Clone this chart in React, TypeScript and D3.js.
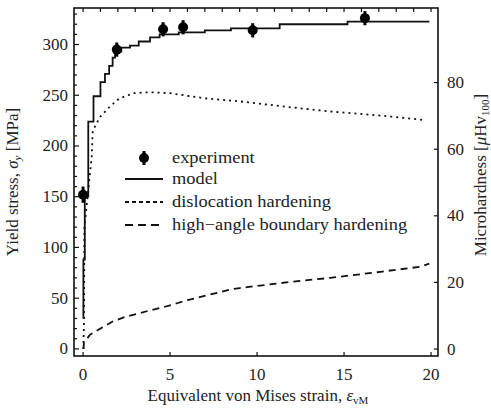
import * as d3 from "d3";

// experiment (yield stress, MPa) with small error bars
const expStrain = [0, 1.94, 4.6, 5.75, 9.75, 16.2];
const expStress = [152, 295, 315, 317, 314, 326];
const expErr = [8, 7, 7, 7, 7, 7];

// model: step curve (level starts at x)
const modelStrain = [0.02, 0.02, 0.1, 0.3, 0.6, 1.0, 1.26, 1.5, 1.7, 1.84, 2.2, 2.7, 3.2, 3.85, 4.4, 5.5, 7.0, 8.5, 11.3, 15.2, 19.9];
const modelStress = [30, 88, 150, 224, 249, 263, 271, 279, 287, 293, 297, 299, 303, 307, 310, 312, 314, 316, 320, 322.5, 322.5];

// dislocation hardening
const dislStrain = [0.02, 0.05, 0.08, 0.5, 0.55, 0.7, 1.0, 1.55, 2.1, 2.9, 3.8, 5.0, 7.0, 9.0, 12.0, 14.2, 17.1, 19.4, 19.7];
const dislStress = [0, 25, 120, 190, 213, 220, 229, 239, 247, 252, 253, 252, 247, 244, 238, 234, 230, 226, 225];

// high-angle boundary hardening
const hagbStrain = [0.02, 0.05, 0.4, 1.1, 1.7, 2.5, 3.2, 3.85, 4.6, 5.4, 6.0, 6.7, 8.6, 9.0, 11.9, 14.2, 17.1, 19.4, 19.9];
const hagbStress = [0, 6, 14, 21, 27, 32, 35, 38, 41, 45, 48, 51, 59, 60, 66, 70, 76, 81, 84];

const xTicks = [0, 5, 10, 15, 20];
const yTicks = [0, 50, 100, 150, 200, 250, 300];
const hTicks = [0, 20, 40, 60, 80];

const legendItems = ["experiment", "model", "dislocation hardening", "high\u2212angle boundary hardening"];

const W = 491;
const H = 409;
const plot = { left: 74, right: 438, top: 8, bottom: 356 };
const font = "Liberation Serif, DejaVu Serif, serif";
const txt = "#222";

export default function App() {
  const x = d3.scaleLinear().domain([-0.52, 20.4]).range([plot.left, plot.right]);
  const y = d3.scaleLinear().domain([-7, 336]).range([plot.bottom, plot.top]);
  const yR = d3.scaleLinear().domain([-2.1, 102.4]).range([plot.bottom, plot.top]);

  const stepLine = d3
    .line<number>()
    .x((_, i) => x(modelStrain[i]))
    .y((d) => y(d))
    .curve(d3.curveStepAfter);
  const disLine = d3
    .line<number>()
    .x((_, i) => x(dislStrain[i]))
    .y((d) => y(d));
  const hagbLine = d3
    .line<number>()
    .x((_, i) => x(hagbStrain[i]))
    .y((d) => y(d));

  const minorY = d3.range(0, 340, 10);
  const topTicks = d3.range(0, 21, 1);

  const legX = 125;
  const legY = [158, 179, 202, 225];

  return (
    <svg
      width={W}
      height={H}
      style={{ position: "absolute", left: 0, top: 0, background: "#fff", fontFamily: font }}
    >
      {/* frame */}
      <rect
        x={plot.left}
        y={plot.top}
        width={plot.right - plot.left}
        height={plot.bottom - plot.top}
        fill="none"
        stroke="#111"
        strokeWidth={1.6}
      />
      {/* left ticks */}
      {minorY.map((v) => (
        <line
          key={"ly" + v}
          x1={plot.left}
          x2={plot.left + (v % 50 === 0 ? 5 : 3)}
          y1={y(v)}
          y2={y(v)}
          stroke="#111"
          strokeWidth={1.2}
        />
      ))}
      {yTicks.map((v) => (
        <text key={"yt" + v} x={68} y={y(v) + 5.5} textAnchor="end" fontSize={17} fill={txt}>
          {v}
        </text>
      ))}
      {/* top ticks */}
      {topTicks.map((v) => (
        <line key={"tt" + v} x1={x(v)} x2={x(v)} y1={plot.top} y2={plot.top + 4} stroke="#111" strokeWidth={1.2} />
      ))}
      {/* bottom ticks */}
      {xTicks.map((v) => (
        <g key={"xt" + v}>
          <line x1={x(v)} x2={x(v)} y1={plot.bottom} y2={plot.bottom - 4} stroke="#111" strokeWidth={1.2} />
          <text x={x(v)} y={380} textAnchor="middle" fontSize={17} fill={txt}>
            {v}
          </text>
        </g>
      ))}
      {/* right ticks */}
      {hTicks.map((v) => (
        <g key={"rt" + v}>
          <line x1={plot.right} x2={plot.right - 4} y1={yR(v)} y2={yR(v)} stroke="#111" strokeWidth={1.2} />
          <text x={447} y={yR(v) + 5.5} textAnchor="start" fontSize={17} fill={txt}>
            {v}
          </text>
        </g>
      ))}

      {/* curves */}
      <path d={hagbLine(hagbStress) ?? ""} fill="none" stroke="#111" strokeWidth={1.8} strokeDasharray="7,5" />
      <path d={disLine(dislStress) ?? ""} fill="none" stroke="#111" strokeWidth={1.8} strokeDasharray="2,4" />
      <path d={stepLine(modelStress) ?? ""} fill="none" stroke="#111" strokeWidth={1.8} />

      {/* experiment */}
      {expStrain.map((s, i) => (
        <g key={"e" + i}>
          <line
            x1={x(s)}
            x2={x(s)}
            y1={y(expStress[i] - expErr[i])}
            y2={y(expStress[i] + expErr[i])}
            stroke="#000"
            strokeWidth={3}
          />
          <circle cx={x(s)} cy={y(expStress[i])} r={5} fill="#000" />
        </g>
      ))}

      {/* legend */}
      <g fontSize={16} fill={txt}>
        <line x1={legX + 19} x2={legX + 19} y1={legY[0] - 7} y2={legY[0] + 7} stroke="#000" strokeWidth={3} />
        <circle cx={legX + 19} cy={legY[0]} r={5} fill="#000" />
        <line x1={legX} x2={legX + 38} y1={legY[1]} y2={legY[1]} stroke="#111" strokeWidth={1.8} />
        <line x1={legX} x2={legX + 38} y1={legY[2]} y2={legY[2]} stroke="#111" strokeWidth={1.8} strokeDasharray="4,3" />
        <line x1={legX} x2={legX + 38} y1={legY[3]} y2={legY[3]} stroke="#111" strokeWidth={1.8} strokeDasharray="8,5" />
        {legendItems.map((t, i) => (
          <text key={t} x={172} y={legY[i] + 5} transform={`translate(172,0) scale(1.15,1) translate(-172,0)`}>
            {t}
          </text>
        ))}
      </g>

      {/* axis labels */}
      <text x={258} y={401} textAnchor="middle" fontSize={17} fill={txt}>
        Equivalent von Mises strain, <tspan fontStyle="italic">ε</tspan>
        <tspan fontSize={11} dy={3}>vM</tspan>
      </text>
      <text transform={`translate(18,${182}) rotate(-90)`} textAnchor="middle" fontSize={17} fill={txt}>
        Yield stress, <tspan fontStyle="italic">σ</tspan>
        <tspan fontSize={11} dy={3} fontStyle="italic">y</tspan>
        <tspan dy={-3}> [MPa]</tspan>
      </text>
      <text transform={`translate(486,${175}) rotate(-90)`} textAnchor="middle" fontSize={17} fill={txt}>
        Microhardness [<tspan fontStyle="italic">μ</tspan>Hv
        <tspan fontSize={11} dy={3}>100</tspan>
        <tspan dy={-3}>]</tspan>
      </text>
    </svg>
  );
}
